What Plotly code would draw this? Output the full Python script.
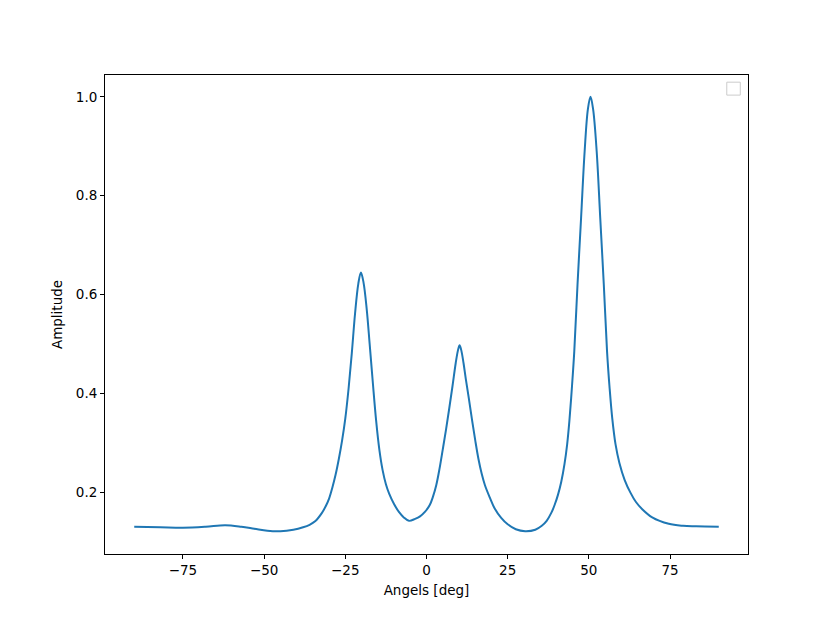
import plotly.graph_objects as go

# values
angles = [-90, -82, -75, -68, -62, -57, -53, -49, -45, -41, -38, -36, -34.3, -32.3, -31,
          -30, -29, -28, -27, -26, -25, -24, -23, -22, -21, -20.2, -19.4, -18.4, -17.5,
          -16.5, -15.5, -14.5, -13.5, -12.5, -11.5, -10, -8.5, -7, -5.4, -3.5, -2,
          -0.5, 1, 2, 3, 4, 5, 6, 7, 8, 9, 9.7, 10.2, 10.7, 11.4, 12.1, 13, 14, 15,
          16, 17, 18, 19.5, 21, 23, 25, 27.5, 30.4, 33.5, 35.5, 37, 38.5, 39.5, 40.5,
          41.5, 42.5, 43.3, 44.0, 44.8, 45.5, 46.5, 47.6, 48.7, 49.7, 50.5, 51.3,
          52.4, 53.5, 54.6, 55.6, 56.4, 57.2, 58.2, 59.4, 61, 62.8, 64.5, 66.5, 69.5,
          74.6, 79, 83, 90]
amplitude = [0.131, 0.130, 0.129, 0.131, 0.134, 0.131, 0.127, 0.123, 0.122, 0.125, 0.130,
             0.135, 0.142, 0.158, 0.173, 0.188, 0.210, 0.236, 0.268, 0.305, 0.350, 0.410,
             0.482, 0.562, 0.622, 0.645, 0.625, 0.570, 0.500, 0.420, 0.345, 0.286, 0.245,
             0.217, 0.198, 0.177, 0.161, 0.150, 0.143, 0.147, 0.152, 0.161, 0.175, 0.192,
             0.215, 0.248, 0.287, 0.327, 0.370, 0.415, 0.462, 0.488, 0.498, 0.488, 0.462,
             0.430, 0.392, 0.348, 0.306, 0.268, 0.238, 0.215, 0.190, 0.168, 0.149, 0.136,
             0.126, 0.122, 0.125, 0.133, 0.143, 0.160, 0.176, 0.196, 0.222, 0.258, 0.297,
             0.345, 0.415, 0.485, 0.620, 0.755, 0.890, 0.975, 1.0, 0.975, 0.890, 0.755,
             0.620, 0.485, 0.410, 0.350, 0.298, 0.260, 0.226, 0.200, 0.181, 0.166, 0.150,
             0.137, 0.133, 0.132, 0.131]

x_ticks = [-75, -50, -25, 0, 25, 50, 75]
y_ticks = [0.2, 0.4, 0.6, 0.8, 1.0]

fig = go.Figure()
fig.add_trace(go.Scatter(x=angles, y=amplitude, mode='lines',
                         line=dict(color='#1f77b4', width=2, shape='spline', smoothing=1),
                         showlegend=False))

axis_style = dict(showline=True, linecolor='black', linewidth=1, mirror=True,
                  ticks='outside', ticklen=4, tickcolor='black', showgrid=False,
                  zeroline=False, tickfont=dict(size=13.5, color='black'))

fig.update_layout(
    width=830, height=623,
    margin=dict(l=97, r=90, t=67, b=77),
    plot_bgcolor='white', paper_bgcolor='white',
    font=dict(family='DejaVu Sans', size=13.5, color='black'),
    xaxis=dict(range=[-99, 99], tickvals=x_ticks,
               title=dict(text='Angels [deg]', standoff=8, font=dict(size=13.5)),
               **axis_style),
    yaxis=dict(range=[0.076, 1.044], tickvals=y_ticks, tickformat='.1f',
               title=dict(text='Amplitude', standoff=10, font=dict(size=13.5)),
               **axis_style),
    # empty legend frame as in the reference
    shapes=[dict(type='rect', xref='paper', yref='paper', x0=0.967, x1=0.988,
                 y0=0.958, y1=0.985, line=dict(color='#cccccc', width=1))],
)

fig.write_html("out.html")
